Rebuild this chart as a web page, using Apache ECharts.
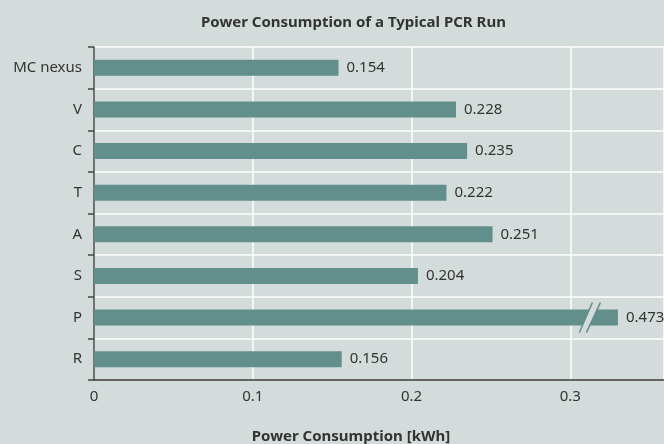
<!DOCTYPE html>
<html><head><meta charset="utf-8">
<script src="https://cdn.jsdelivr.net/npm/echarts@6/dist/echarts.min.js"></script>
<style>html,body{margin:0;padding:0;background:#d3dcdb}#c{width:664px;height:444px}</style>
</head><body><div id="c"></div>
<script>
const categories = ['R', 'P', 'S', 'A', 'T', 'C', 'V', 'MC nexus'];
const values = [0.156, 0.473, 0.204, 0.251, 0.222, 0.235, 0.228, 0.154];
const xTicks = [0, 0.1, 0.2, 0.3];
const axisMax = 0.359;
const barCap = 0.33;       // bars longer than this are drawn broken
const breakAt = 0.312;     // where the break marks sit on a broken bar

const BG = '#d3dcdb', BAR = '#628f8c', TXT = '#333';
const FONT = 'Noto Sans';

const shown = values.map(v => Math.min(v, barCap));
const broken = values.map((v, i) => v > barCap ? [breakAt, i] : null).filter(Boolean);

const chart = echarts.init(document.getElementById('c'));
chart.setOption({
  backgroundColor: BG,
  animation: false,
  textStyle: { fontFamily: FONT },
  title: {
    text: 'Power Consumption of a Typical PCR Run',
    left: 196, top: 10,
    textStyle: { fontFamily: FONT, fontSize: 15, fontWeight: 'bold', color: TXT }
  },
  grid: { left: 94, right: 0, top: 47, bottom: 64, containLabel: false, outerBoundsMode: 'none' },
  xAxis: {
    type: 'value', min: 0, max: axisMax, interval: 0.1,
    name: 'Power Consumption [kWh]', nameLocation: 'middle', nameGap: 49,
    nameTextStyle: { fontFamily: FONT, fontSize: 15, fontWeight: 'bold', color: TXT, padding: [0, 56, 0, 0] },
    axisLine: { show: true, lineStyle: { color: '#333', width: 1.5 } },
    axisTick: { show: false },
    axisLabel: { color: TXT, fontSize: 15, margin: 9, showMaxLabel: false,
      formatter: v => xTicks.includes(Math.round(v * 10) / 10) ? String(Math.round(v * 10) / 10) : '' },
    splitLine: { show: true, lineStyle: { color: '#ffffff', width: 1.5 } }
  },
  yAxis: {
    type: 'category', data: categories,
    axisLine: { show: true, lineStyle: { color: '#444', width: 1.5 } },
    axisTick: { show: true, length: 6, lineStyle: { color: '#444', width: 1.5 } },
    axisLabel: { color: TXT, fontSize: 15, margin: 12 },
    splitLine: { show: true, lineStyle: { color: '#ffffff', width: 1.5 } }
  },
  series: [
    {
      type: 'bar', data: shown, barWidth: 16,
      itemStyle: { color: BAR },
      label: { show: true, position: 'right', distance: 8, color: TXT, fontSize: 15,
        formatter: p => values[p.dataIndex].toFixed(3) }
    },
    {
      type: 'custom', data: broken, z: 5,
      renderItem: (params, api) => {
        const c = api.coord([api.value(0), api.value(1)]);
        const x = c[0], y = c[1];
        return {
          type: 'group',
          children: [
            { type: 'polygon', shape: { points: [[x - 10, y + 15], [x + 3, y - 15], [x + 11, y - 15], [x - 3, y + 15]] },
              style: { fill: BG } },
            { type: 'line', shape: { x1: x - 10, y1: y + 15, x2: x + 3, y2: y - 15 }, style: { stroke: BAR, lineWidth: 1.5 } },
            { type: 'line', shape: { x1: x - 3, y1: y + 15, x2: x + 11, y2: y - 15 }, style: { stroke: BAR, lineWidth: 1.5 } }
          ]
        };
      }
    }
  ]
});
</script></body></html>
